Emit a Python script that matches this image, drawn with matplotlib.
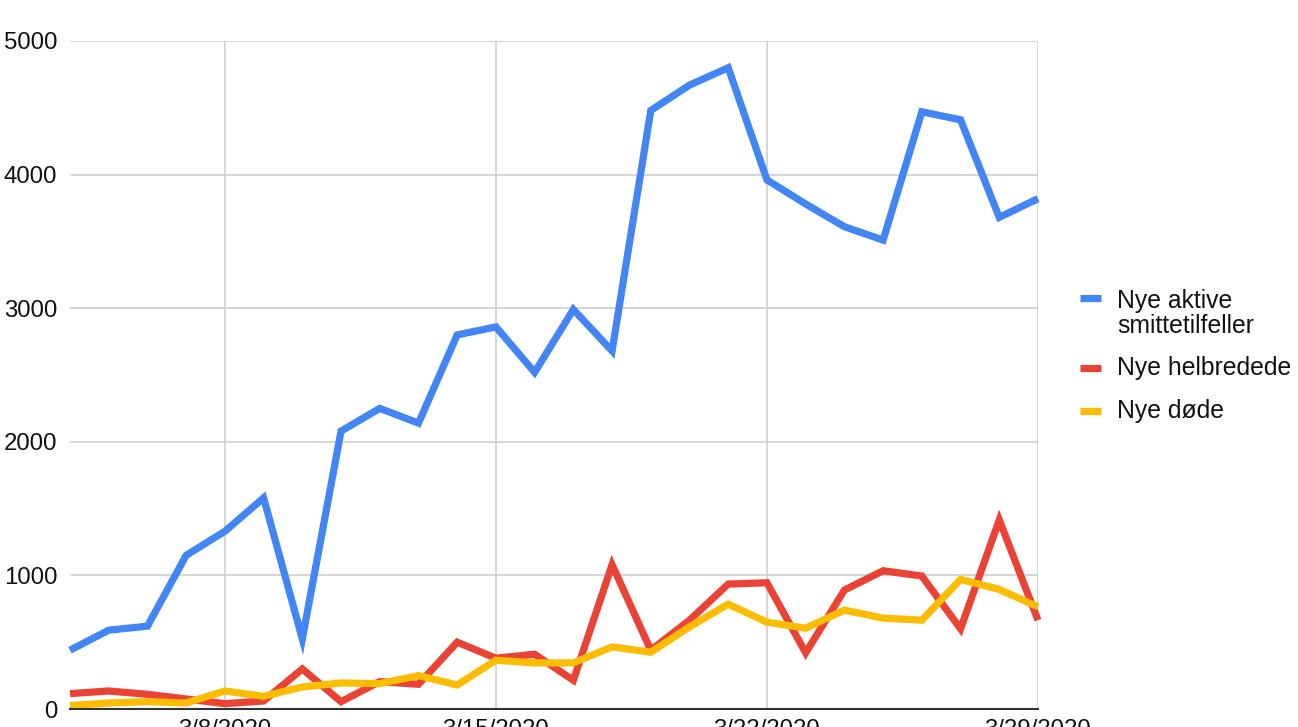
import matplotlib
matplotlib.use('Agg')
import matplotlib.pyplot as plt
from matplotlib.lines import Line2D

plt.rcParams['font.family'] = ['Liberation Sans', 'DejaVu Sans']

# daily values 3/4/2020 .. 3/29/2020
days = list(range(26))
aktive = [440, 590, 620, 1150, 1330, 1580, 525, 2080, 2250, 2140, 2800, 2860, 2520,
          2990, 2680, 4480, 4670, 4800, 3960, 3780, 3610, 3510, 4470, 4410, 3680, 3820]
helbredede = [115, 135, 110, 75, 40, 60, 300, 55, 205, 185, 500, 380, 410,
              215, 1080, 440, 665, 935, 945, 420, 890, 1035, 995, 600, 1415, 665]
dode = [25, 45, 55, 45, 135, 95, 165, 195, 190, 250, 180, 365, 345,
        345, 465, 425, 615, 785, 650, 605, 740, 680, 665, 970, 895, 765]

tick_pos = [4, 11, 18, 25]
tick_labels = ['3/8/2020', '3/15/2020', '3/22/2020', '3/29/2020']
y_ticks = [0, 1000, 2000, 3000, 4000, 5000]

series = [
    ('Nye aktive\nsmittetilfeller', aktive, '#4285F4'),
    ('Nye helbredede', helbredede, '#EA4335'),
    ('Nye døde', dode, '#FBBC04'),
]

W, H = 1298, 727
fig = plt.figure(figsize=(W / 100, H / 100), dpi=100)
ax = fig.add_axes([70 / W, (H - 709) / H, (1038 - 70) / W, (709 - 41) / H])

for name, vals, color in series:
    ax.plot(days, vals, color=color, lw=5.2, solid_joinstyle='miter',
            solid_capstyle='butt', clip_on=False, zorder=3)

ax.set_xlim(0, 25)
ax.set_ylim(0, 5000)
ax.set_xticks(tick_pos)
ax.set_xticklabels(tick_labels)
ax.set_yticks(y_ticks)
ax.tick_params(axis='both', length=0, labelsize=17.3, colors='#111111')
ax.tick_params(axis='y', pad=9)
ax.tick_params(axis='x', pad=7)
ax.grid(True, color='#cccccc', lw=1.1, zorder=0)
for s in ['top', 'right', 'left']:
    ax.spines[s].set_visible(False)
ax.spines['bottom'].set_color('#333333')
ax.spines['bottom'].set_linewidth(1.5)
ax.spines['bottom'].set_zorder(4)

# legend drawn by hand so the marker sits on the first text line
leg = [(series[0], 298, 289, 'top'), (series[1], 368, 368, 'center'),
       (series[2], 411, 411, 'center')]
for (name, vals, color), ym, yt, va in leg:
    fig.add_artist(Line2D([1080 / W, 1101 / W], [(H - ym) / H] * 2,
                          color=color, lw=5.2, solid_capstyle='butt',
                          transform=fig.transFigure))
    fig.text(1117 / W, (H - yt) / H, name, fontsize=17.8, color='#111111',
             va=va, ha='left', linespacing=1.05)

fig.savefig('out.png', dpi=100)
